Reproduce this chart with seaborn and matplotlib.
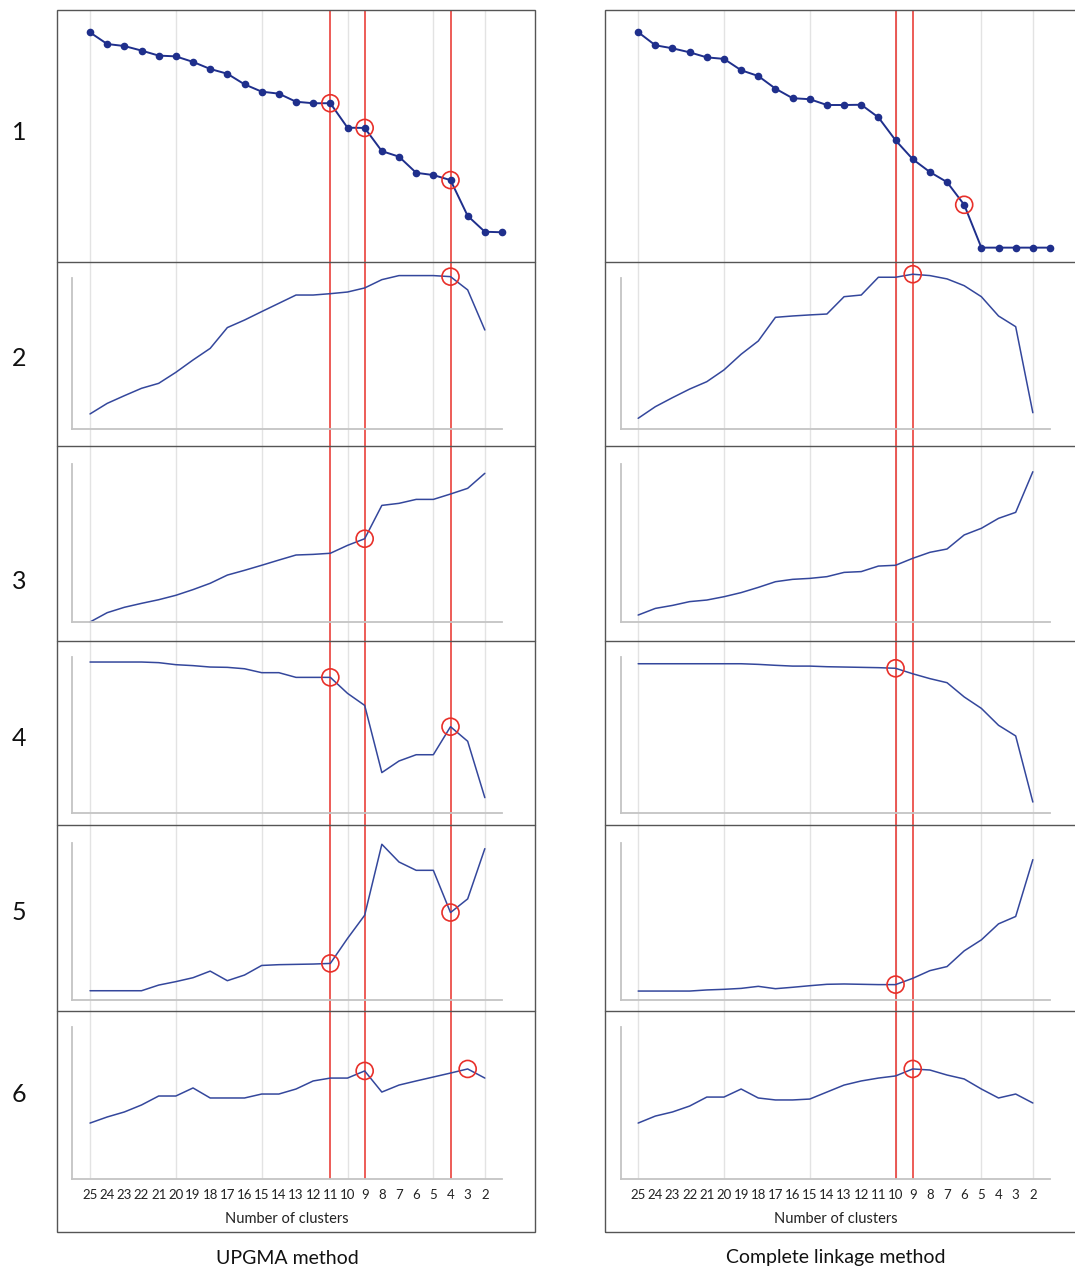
import matplotlib
matplotlib.use("Agg")
import matplotlib.pyplot as plt
import seaborn as sns
import pandas as pd
from matplotlib.patches import Rectangle
from matplotlib.lines import Line2D

sns.set_theme(style="white")
plt.rcParams['font.family'] = ['Lato', 'DejaVu Sans']

# ---------------- data (relative values, 0-100 scale) ----------------
clusters_p1 = list(range(25, 0, -1))      # 25 .. 1
clusters = list(range(25, 1, -1))         # 25 .. 2
tick_labels = [str(c) for c in clusters]
grid_clusters = [25, 20, 15, 10, 5, 2]
panel_labels = ["1", "2", "3", "4", "5", "6"]

upgma_1 = [91.1, 86.5, 85.7, 83.9, 81.9, 81.6, 79.4, 76.6, 74.7, 70.5, 67.6, 66.8, 63.6,
           63.0, 63.0, 53.3, 53.2, 44.0, 41.8, 35.4, 34.5, 32.5, 18.3, 12.0, 11.8]
upgma_2 = [10.0, 17.0, 22.1, 27.0, 30.3, 37.6, 45.8, 53.5, 67.3, 72.3, 77.9, 83.4,
           88.9, 88.9, 89.8, 90.9, 93.6, 99.1, 101.8, 101.8, 101.8, 101.1, 92.3, 65.7]
upgma_3 = [0.0, 5.9, 9.3, 11.8, 14.1, 16.9, 20.5, 24.5, 29.7, 32.7, 35.9, 39.2,
           42.4, 42.8, 43.5, 48.5, 52.7, 73.8, 75.1, 77.6, 77.6, 81.0, 84.6, 94.1]
upgma_4 = [96.6, 96.6, 96.6, 96.6, 96.2, 94.9, 94.3, 93.4, 93.2, 92.3, 89.8, 89.8,
           86.8, 86.8, 86.8, 76.6, 68.9, 26.0, 33.4, 37.4, 37.4, 55.3, 46.0, 10.0]
upgma_5 = [5.9, 5.9, 5.9, 5.9, 9.5, 11.7, 14.2, 18.4, 12.3, 15.9, 22.0, 22.5,
           22.7, 22.9, 23.3, 39.2, 54.0, 99.2, 87.9, 82.6, 82.6, 55.7, 64.4, 96.4]
upgma_6 = [36.8, 40.8, 44.1, 48.7, 54.6, 54.6, 59.9, 53.3, 53.3, 53.3, 55.9, 55.9,
           59.2, 64.5, 66.4, 66.4, 71.1, 57.2, 61.8, 64.5, 67.1, 69.7, 72.4, 66.4]

complete_1 = [91.2, 86.0, 84.8, 83.2, 81.2, 80.6, 76.1, 73.8, 68.8, 65.0, 64.6, 62.3, 62.3,
              62.4, 57.4, 48.3, 40.8, 35.7, 31.7, 22.7, 5.7, 5.7, 5.7, 5.7, 5.7]
complete_2 = [7.1, 14.8, 20.8, 26.5, 31.4, 39.2, 49.6, 58.4, 74.1, 75.0, 75.7, 76.3,
              87.8, 88.9, 100.7, 100.7, 102.7, 101.8, 99.6, 95.1, 87.8, 75.0, 67.9, 10.8]
complete_3 = [4.4, 8.6, 10.5, 12.9, 13.9, 16.0, 18.6, 21.9, 25.5, 27.0, 27.6, 28.7,
              31.4, 31.9, 35.4, 35.9, 40.3, 44.1, 46.2, 55.1, 59.3, 65.6, 69.4, 95.1]
complete_4 = [95.5, 95.5, 95.5, 95.5, 95.5, 95.5, 95.5, 95.1, 94.5, 94.0, 94.0, 93.6,
              93.4, 93.2, 93.0, 92.6, 89.1, 86.0, 83.4, 74.3, 67.0, 56.2, 49.4, 7.2]
complete_5 = [5.7, 5.7, 5.7, 5.7, 6.4, 6.8, 7.4, 8.7, 7.2, 8.1, 9.1, 10.0,
              10.2, 10.0, 9.8, 9.8, 13.8, 18.7, 21.3, 31.3, 38.3, 48.5, 53.2, 89.4]
complete_6 = [36.8, 41.4, 44.1, 48.0, 53.9, 53.9, 59.2, 53.3, 52.0, 52.0, 52.6, 57.2,
              61.8, 64.5, 66.4, 67.8, 72.4, 71.7, 68.4, 65.8, 59.2, 53.3, 55.9, 50.0]

upgma_circles = [[11, 9, 4], [4], [9], [11, 4], [11, 4], [9, 3]]
complete_circles = [[6], [9], [], [10], [10], [9]]
upgma_cuts = [11, 9, 4]
complete_cuts = [10, 9]

method_titles = ["UPGMA method", "Complete linkage method"]
x_title = "Number of clusters"

# ---------------- layout ----------------
W, H = 1075, 1272
fig = plt.figure(figsize=(W / 100, H / 100), dpi=100)
fig.patch.set_facecolor("white")


def box(x0, y0, x1, y1):
    return [x0 / W, 1 - y1 / H, (x1 - x0) / W, (y1 - y0) / H]


LINE_C = "#34479c"
P1_C = "#1f2f8c"
RED = "#e8302a"
GRID_C = "#e3e3e3"
SPINE_C = "#c4c4c4"
FRAME_C = "#555555"

panel_tops = [10, 278.3, 464, 656.7, 843, 1027]
panel_bases = [262, 429, 622, 813.3, 1000, 1179]
separators = [262, 446, 641, 825, 1011]
label_y = [133, 359, 582, 739, 913, 1094]

columns = [
    dict(frame=(57, 535), inner=(72, 502), xlim=(26.05, 1.0),
         series=[upgma_1, upgma_2, upgma_3, upgma_4, upgma_5, upgma_6],
         circles=upgma_circles, cuts=upgma_cuts, title=method_titles[0]),
    dict(frame=(605, 1083), inner=(621, 1050), xlim=(26.0, 1.0),
         series=[complete_1, complete_2, complete_3, complete_4, complete_5, complete_6],
         circles=complete_circles, cuts=complete_cuts, title=method_titles[1]),
]

for col in columns:
    fx0, fx1 = col["frame"]
    ix0, ix1 = col["inner"]
    # outer frame and separators
    fig.add_artist(Rectangle((fx0 / W, 1 - 1232 / H), (fx1 - fx0) / W, (1232 - 10) / H,
                             transform=fig.transFigure, fill=False, edgecolor=FRAME_C, lw=1.0))
    for sy in separators:
        fig.add_artist(Line2D([fx0 / W, fx1 / W], [1 - sy / H, 1 - sy / H],
                              transform=fig.transFigure, color=FRAME_C, lw=1.0))

    # background axes: vertical gridlines and red cut lines across the whole column
    bg = fig.add_axes(box(ix0, 10, ix1, 1179))
    bg.set_xlim(*col["xlim"])
    bg.set_ylim(0, 1)
    bg.axis("off")
    for g in grid_clusters:
        bg.axvline(g, color=GRID_C, lw=1.0, zorder=1)
    for c in col["cuts"]:
        bg.axvline(c, color=RED, lw=1.1, zorder=2)

    for i, vals in enumerate(col["series"]):
        ax = fig.add_axes(box(ix0, panel_tops[i], ix1, panel_bases[i]))
        ax.patch.set_alpha(0)
        ax.set_xlim(*col["xlim"])
        ax.set_ylim(0, 100)
        xs = clusters_p1 if i == 0 else clusters
        df = pd.DataFrame({"k": xs, "v": vals})
        if i == 0:
            sns.lineplot(data=df, x="k", y="v", ax=ax, color=P1_C, lw=1.4,
                         marker="o", markersize=5.5, markeredgewidth=0,
                         markerfacecolor=P1_C, clip_on=False)
        else:
            sns.lineplot(data=df, x="k", y="v", ax=ax, color=LINE_C, lw=1.1, clip_on=False)
        circ = df[df["k"].isin(col["circles"][i])]
        if len(circ):
            sns.scatterplot(data=circ, x="k", y="v", ax=ax, s=150, facecolor="none",
                            edgecolor=RED, linewidth=1.2, zorder=5, clip_on=False)
        ax.set_ylabel("")
        ax.set_yticks([])
        for s in ["top", "right"]:
            ax.spines[s].set_visible(False)
        if i == 0:
            ax.spines["left"].set_visible(False)
            ax.spines["bottom"].set_visible(False)
        else:
            ax.spines["left"].set_color(SPINE_C)
            ax.spines["bottom"].set_color(SPINE_C)
            ax.spines["left"].set_linewidth(1.3)
            ax.spines["bottom"].set_linewidth(1.3)
        if i == 5:
            ax.set_xticks(clusters)
            ax.set_xticklabels(tick_labels, fontsize=9.5, color="#222222")
            ax.tick_params(axis="x", length=0, pad=7)
            ax.set_xlabel(x_title, fontsize=10.5, color="#222222", labelpad=8)
        else:
            ax.set_xticks([])
            ax.set_xlabel("")

    fig.text(((ix0 + ix1) / 2) / W, 1 - 1258 / H,
             col["title"], ha="center", va="center", fontsize=14, color="#111111")

for lab, ly in zip(panel_labels, label_y):
    fig.text(19 / W, 1 - ly / H, lab, ha="center", va="center", fontsize=18, color="#111111")

fig.savefig("out.png", dpi=100)
